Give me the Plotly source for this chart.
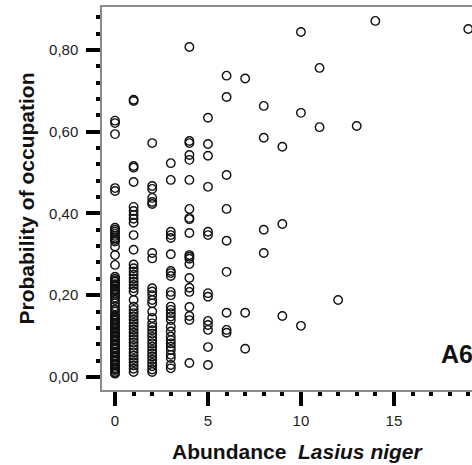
import plotly.graph_objects as go

# Observed abundance of Lasius niger (x) and the estimated probability of
# occupation for each site, grouped by abundance value.
prob_at_0 = [0.627, 0.621, 0.594, 0.462, 0.455, 0.365, 0.36, 0.355, 0.35, 0.345,
             0.34, 0.335, 0.331, 0.319, 0.298, 0.274, 0.245, 0.24, 0.233, 0.227,
             0.221, 0.215, 0.209, 0.2, 0.194, 0.188, 0.18, 0.172, 0.165, 0.16,
             0.152, 0.147, 0.142, 0.137, 0.132, 0.127, 0.122, 0.117, 0.112, 0.107,
             0.102, 0.097, 0.092, 0.087, 0.082, 0.077, 0.072, 0.067, 0.062, 0.057,
             0.052, 0.047, 0.042, 0.037, 0.032, 0.027, 0.022, 0.017, 0.012, 0.008,
             0.149, 0.139, 0.129, 0.119, 0.109, 0.099, 0.089, 0.079, 0.069, 0.059,
             0.049, 0.039, 0.029, 0.019, 0.01, 0.236, 0.224, 0.212, 0.204]
prob_at_1 = [0.678, 0.675, 0.516, 0.512, 0.477, 0.416, 0.406, 0.396, 0.387, 0.377,
             0.347, 0.311, 0.275, 0.266, 0.258, 0.25, 0.241, 0.233, 0.225, 0.217,
             0.209, 0.188, 0.172, 0.164, 0.156, 0.148, 0.14, 0.132, 0.124, 0.116,
             0.108, 0.1, 0.092, 0.084, 0.076, 0.068, 0.06, 0.052, 0.044, 0.036,
             0.028, 0.02, 0.012]
prob_at_2 = [0.572, 0.467, 0.46, 0.438, 0.428, 0.423, 0.303, 0.29, 0.217, 0.209,
             0.2, 0.188, 0.18, 0.16, 0.144, 0.131, 0.122, 0.114, 0.106, 0.098,
             0.09, 0.082, 0.074, 0.066, 0.058, 0.05, 0.042, 0.034, 0.026, 0.018,
             0.012]
prob_at_3 = [0.523, 0.482, 0.355, 0.347, 0.34, 0.3, 0.259, 0.254, 0.247, 0.208,
             0.2, 0.172, 0.164, 0.156, 0.148, 0.139, 0.123, 0.111, 0.099, 0.09,
             0.082, 0.074, 0.066, 0.054, 0.046, 0.029, 0.021]
prob_at_4 = [0.807, 0.577, 0.572, 0.543, 0.531, 0.482, 0.411, 0.389, 0.386, 0.352,
             0.298, 0.294, 0.289, 0.276, 0.242, 0.218, 0.208, 0.171, 0.149, 0.139,
             0.034]
prob_at_5 = [0.634, 0.57, 0.541, 0.465, 0.355, 0.347, 0.205, 0.196, 0.137, 0.127,
             0.115, 0.073, 0.029]
prob_at_6 = [0.737, 0.685, 0.494, 0.411, 0.333, 0.257, 0.157, 0.115, 0.108]
prob_at_7 = [0.73, 0.157, 0.069]
prob_at_8 = [0.663, 0.585, 0.36, 0.303]
prob_at_9 = [0.563, 0.374, 0.149]
prob_at_10 = [0.844, 0.646, 0.125]
prob_at_11 = [0.756, 0.611]
prob_at_12 = [0.188]
prob_at_13 = [0.614]
prob_at_14 = [0.871]
prob_at_19 = [0.851]

abundance_levels = [0, 1, 2, 3, 4, 5, 6, 7, 8, 9, 10, 11, 12, 13, 14, 19]
prob_groups = [prob_at_0, prob_at_1, prob_at_2, prob_at_3, prob_at_4, prob_at_5,
               prob_at_6, prob_at_7, prob_at_8, prob_at_9, prob_at_10, prob_at_11,
               prob_at_12, prob_at_13, prob_at_14, prob_at_19]

y_ticks = [0.0, 0.2, 0.4, 0.6, 0.8]
x_ticks = [0, 5, 10, 15]

# Flatten the groups into one x/y point list
xs, ys = [], []
for level, probs in zip(abundance_levels, prob_groups):
    xs.extend([level] * len(probs))
    ys.extend(probs)

W, H = 472, 465
M_L, M_R, M_T, M_B = 102, 0, 7, 75

fig = go.Figure()
fig.add_trace(go.Scatter(
    x=xs, y=ys, mode="markers",
    marker=dict(symbol="circle-open", size=8.5, color="#111",
                line=dict(width=1.4, color="#111")),
    hoverinfo="x+y", showlegend=False,
))

tick_font = dict(family="Liberation Sans, Arial, sans-serif", size=15, color="#222")

fig.update_layout(
    width=W, height=H,
    margin=dict(l=M_L, r=M_R, t=M_T, b=M_B, pad=0),
    paper_bgcolor="white", plot_bgcolor="white",
    separators=",.",
    xaxis=dict(
        range=[-0.7, 19.2], tickvals=x_ticks, tickformat="d",
        showgrid=False, zeroline=False,
        showline=True, linecolor="#8a8a8a", linewidth=1.5, mirror=True,
        ticks="outside", ticklen=14, tickwidth=3.5, tickcolor="#000",
        ticklabelstandoff=2,
        minor=dict(dtick=1, ticks="outside", ticklen=4, tickwidth=3.5,
                   tickcolor="#000", showgrid=False),
        tickfont=tick_font,
    ),
    yaxis=dict(
        range=[-0.032, 0.905], tickvals=y_ticks, tickformat=".2f",
        showgrid=False, zeroline=False,
        showline=True, linecolor="#8a8a8a", linewidth=1.5,
        ticks="outside", ticklen=14, tickwidth=3.5, tickcolor="#000",
        ticklabelstandoff=5,
        minor=dict(dtick=0.04, ticks="outside", ticklen=4, tickwidth=3.5,
                   tickcolor="#000", showgrid=False),
        tickfont=tick_font,
    ),
)

title_font = dict(family="Liberation Sans, Arial, sans-serif", size=21, color="#111")
plot_w = W - M_L - M_R
plot_h = H - M_T - M_B

fig.add_annotation(
    text="<b>Abundance  <i>Lasius niger</i></b>",
    xref="paper", yref="paper",
    x=(298 - M_L) / plot_w, y=-(452 - (H - M_B)) / plot_h,
    xanchor="center", yanchor="middle", showarrow=False, font=title_font,
)
fig.add_annotation(
    text="<b>Probability of occupation</b>",
    xref="paper", yref="paper",
    x=-(M_L - 26) / plot_w, y=0.5,
    xanchor="center", yanchor="middle", textangle=-90,
    showarrow=False, font=title_font,
)
fig.add_annotation(
    text="<b>A6</b>",
    xref="paper", yref="paper",
    x=(439 - M_L) / plot_w, y=((H - M_B) - 354) / plot_h,
    xanchor="left", yanchor="middle", showarrow=False,
    font=dict(family="Liberation Sans, Arial, sans-serif", size=25, color="#111"),
)

fig.write_html("out.html")
